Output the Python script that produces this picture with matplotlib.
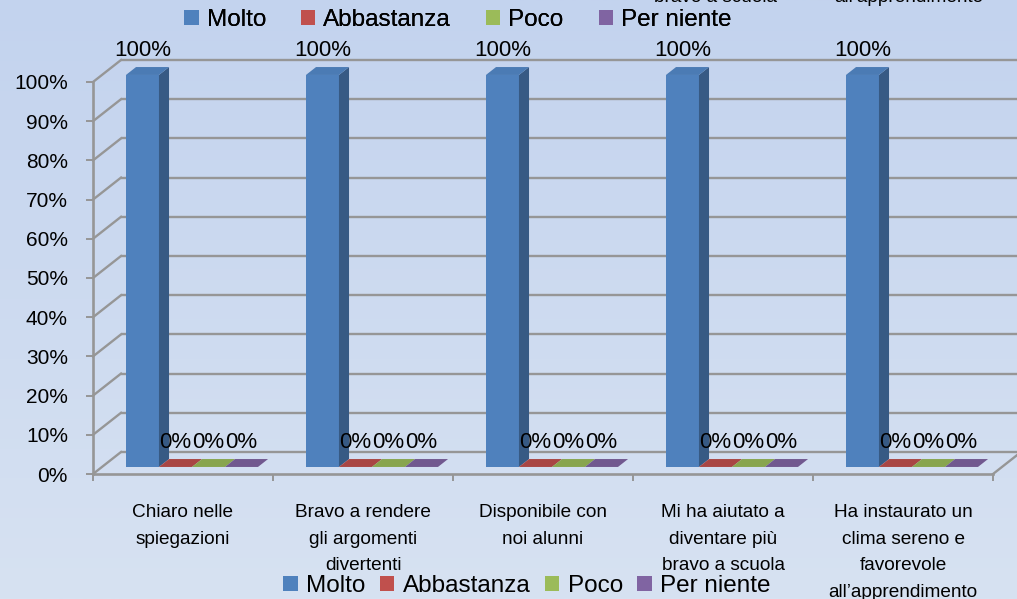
import numpy as np
import matplotlib
matplotlib.use("Agg")
import matplotlib.pyplot as plt
from matplotlib.patches import Polygon, Patch
from matplotlib.colors import to_rgb

# ---------------- data ----------------
categories = [
    "Chiaro nelle\nspiegazioni",
    "Bravo a rendere\ngli argomenti\ndivertenti",
    "Disponibile con\nnoi alunni",
    "Mi ha aiutato a\ndiventare più\nbravo a scuola",
    "Ha instaurato un\nclima sereno e\nfavorevole\nall\u2019apprendimento",
]
series_names = ["Molto", "Abbastanza", "Poco", "Per niente"]
molto = [1.00, 1.00, 1.00, 1.00, 1.00]
abbastanza = [0.00, 0.00, 0.00, 0.00, 0.00]
poco = [0.00, 0.00, 0.00, 0.00, 0.00]
per_niente = [0.00, 0.00, 0.00, 0.00, 0.00]
series_values = [molto, abbastanza, poco, per_niente]
yticks = [0.0, 0.1, 0.2, 0.3, 0.4, 0.5, 0.6, 0.7, 0.8, 0.9, 1.0]
ytick_labels = ["0%", "10%", "20%", "30%", "40%", "50%", "60%", "70%", "80%", "90%", "100%"]
top_remnants = ["bravo a scuola", "all\u2019apprendimento"]

# ---------------- style ----------------
front_colors = ["#4F81BD", "#C0504D", "#9BBB59", "#8064A2"]
FONT = ["Liberation Sans", "DejaVu Sans"]
plt.rcParams["font.family"] = FONT
GRID = "#969696"

W, H = 1017, 599
fig = plt.figure(figsize=(W / 100, H / 100), dpi=100)

# background gradient
bg = fig.add_axes([0, 0, 1, 1], zorder=-10)
t = np.linspace(0, 1, 256)[:, None, None]
c_top = np.array(to_rgb("#C3D3EE"))
c_bot = np.array(to_rgb("#D7E2F2"))
img = c_top[None, None, :] * (1 - t) + c_bot[None, None, :] * t
bg.imshow(img, aspect="auto", extent=[0, 1, 0, 1], origin="upper")
bg.set_axis_off()

# front plane of the 3D box (pixels)
AX_L, AX_R, AX_B, AX_T = 93, 993, 474, 82
ax = fig.add_axes([AX_L / W, (H - AX_B) / H, (AX_R - AX_L) / W, (AX_B - AX_T) / H])
n = len(categories)
ax.set_xlim(0, n)
ax.set_ylim(0, 1)
ax.patch.set_alpha(0)
for s in ax.spines.values():
    s.set_visible(False)

px_x = (AX_R - AX_L) / n      # pixels per x unit
px_y = (AX_B - AX_T) / 1.0    # pixels per y unit
DEPTH = (28 / px_x, 22 / px_y)  # full box depth in data units
BAR_D0, BAR_DD = 0.32, 0.36     # bar depth start / thickness (fraction of box depth)

# back wall gridlines + side wall diagonals
for v in yticks:
    ax.plot([DEPTH[0], n + DEPTH[0] + 0.2], [v + DEPTH[1]] * 2, color=GRID, lw=1.7,
            clip_on=False, zorder=1, solid_capstyle="butt")
    ax.plot([0, DEPTH[0]], [v, v + DEPTH[1]], color=GRID, lw=1.7, clip_on=False, zorder=1)
# floor front edge, right side edge, left axis
ax.plot([0, n], [0, 0], color=GRID, lw=1.9, clip_on=False, zorder=1)
ax.plot([n, n + DEPTH[0]], [0, DEPTH[1]], color=GRID, lw=1.7, clip_on=False, zorder=1)
ax.plot([0, 0], [0, 1], color=GRID, lw=1.9, clip_on=False, zorder=1)

# ticks
ax.set_yticks(yticks)
ax.set_yticklabels(ytick_labels, fontsize=15)
ax.tick_params(axis="y", length=5, width=1.4, color=GRID, pad=13)
ax.set_xticks(np.arange(0, n + 1))
ax.set_xticklabels([])
ax.tick_params(axis="x", length=5, width=1.4, color=GRID)

# bars
bw = 33 / px_x
dx0, dy0 = BAR_D0 * DEPTH[0], BAR_D0 * DEPTH[1]
ddx, ddy = BAR_DD * DEPTH[0], BAR_DD * DEPTH[1]


def shade(c, f):
    return tuple(np.clip(np.array(to_rgb(c)) * f, 0, 1))


for i, (vals, col) in enumerate(zip(series_values, front_colors)):
    for j, v in enumerate(vals):
        xc = j + 0.5 + (i - 1.5) * bw
        xl = xc - bw / 2 + dx0
        b = dy0
        z = 3 + i
        top_col = shade(col, 0.95) if v > 0 else shade(col, 0.88)
        if v > 0:
            ax.add_patch(Polygon([(xl, b), (xl + bw, b), (xl + bw, b + v), (xl, b + v)],
                                 closed=True, fc=col, ec="none", zorder=z, clip_on=False))
            ax.add_patch(Polygon([(xl + bw, b), (xl + bw + ddx, b + ddy),
                                  (xl + bw + ddx, b + v + ddy), (xl + bw, b + v)],
                                 closed=True, fc=shade(col, 0.70), ec="none", zorder=z,
                                 clip_on=False))
        ax.add_patch(Polygon([(xl, b + v), (xl + bw, b + v), (xl + bw + ddx, b + v + ddy),
                              (xl + ddx, b + v + ddy)],
                             closed=True, fc=top_col, ec="none", zorder=z, clip_on=False))
        ax.annotate(f"{v * 100:.0f}%", xy=(xl + bw / 2, b + v), xytext=(0, 19 * 0.72),
                    textcoords="offset points", ha="center", va="baseline",
                    fontsize=16, color="black", zorder=10, annotation_clip=False)

# category labels
for j, lab in enumerate(categories):
    ax.annotate(lab, xy=(j + 0.5, 0), xytext=(0, -30 * 0.72), textcoords="offset points",
                ha="center", va="top", multialignment="center", linespacing=1.74,
                fontsize=13.7, color="black", annotation_clip=False)

# legends (top and bottom)
handles = [Patch(facecolor=c, edgecolor="none") for c in front_colors]
leg_top = fig.legend(handles, series_names, loc="center", bbox_to_anchor=(458 / W, 1 - 20 / H),
                     ncol=4, frameon=False, fontsize=17.5, handlelength=0.58, handleheight=0.58,
                     handletextpad=0.33, columnspacing=1.45, borderpad=0, borderaxespad=0)
fig.add_artist(leg_top)
fig.legend(handles, series_names, loc="center", bbox_to_anchor=(527 / W, 1 - 586 / H),
           ncol=4, frameon=False, fontsize=17.5, handlelength=0.58, handleheight=0.58,
           handletextpad=0.35, columnspacing=0.6, borderpad=0, borderaxespad=0)

# clipped remnants of labels at the very top (cut off in the original too)
for txt, xc in zip(top_remnants, [715, 909]):
    fig.text(xc / W, 1 - 2 / H, txt, ha="center", va="baseline", fontsize=13.7)

fig.savefig("out.png", dpi=100)
